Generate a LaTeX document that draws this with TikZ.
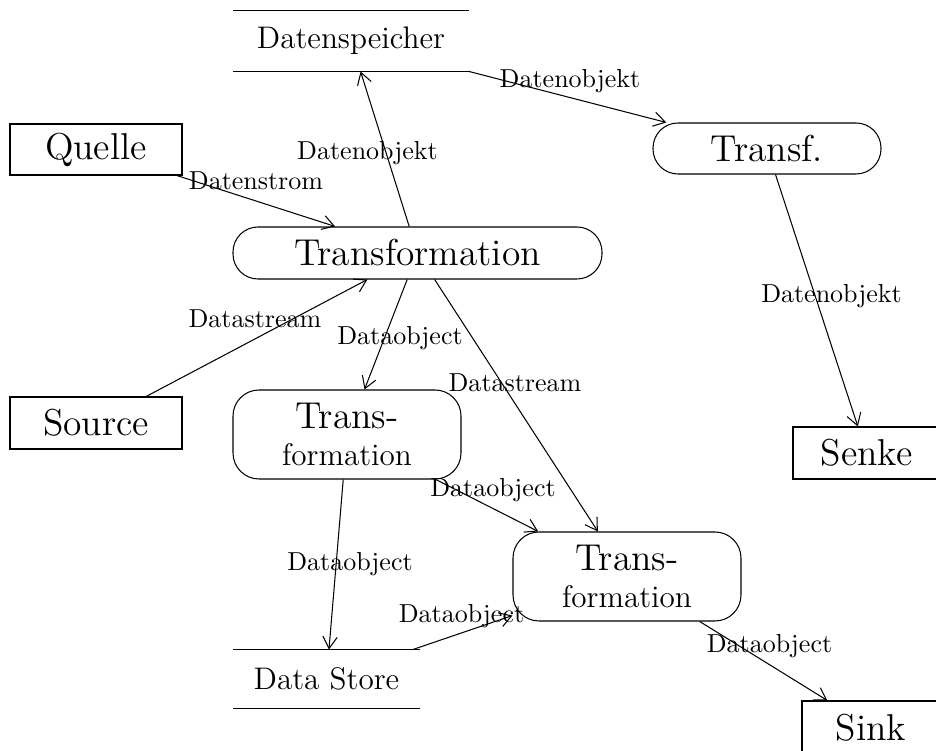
\documentclass[tikz,border=0pt]{standalone}
\usetikzlibrary{arrows.meta}
\newdimen\pu
\pu=0.3846pt
\begin{document}
\begin{tikzpicture}[x={(0.3846pt,0)}, y={(0,-0.3846pt)},
  every node/.style={inner sep=0pt},
  endpoint/.style={draw, font=\Large},
  capsule/.style={draw, font=\Large, rounded corners={25*\pu}},
  procbox/.style={draw, rounded corners=10pt, font=\large, align=center,
                  minimum width={228*\pu}, minimum height={89*\pu}},
  store/.style={font=\large},
  lbl/.style={font=\normalsize, anchor=base},
  arr/.style={-{Straight Barb[length=4.5pt,width=5.5pt]}}
]
\useasboundingbox (0,0) rectangle (936,751);

% nodes
\node[store, minimum width={234*\pu}, minimum height={60*\pu}] (ds) at (351,41) {Datenspeicher};
\draw (ds.north west) -- (ds.north east);
\draw (ds.south west) -- (ds.south east);

\node[endpoint, minimum width={172*\pu}, minimum height={51*\pu}] (quelle) at (96,149.5) {Quelle};
\node[endpoint, minimum width={172*\pu}, minimum height={52*\pu}] (source) at (96,423) {Source};
\node[endpoint, minimum width={147*\pu}, minimum height={52*\pu}] (senke) at (866.5,453) {Senke};
\node[endpoint, minimum width={138*\pu}, minimum height={53*\pu}] (sink) at (871,727.5) {Sink};

\node[capsule, minimum width={228*\pu}, minimum height={51*\pu}] (tf) at (767,148.5) {Transf.};
\node[capsule, minimum width={369*\pu}, minimum height={52*\pu}] (tr) at (417.5,253) {Transformation};

\node[procbox] (t1) at (347,434.5) {{\Large Trans-}\\formation};
\node[procbox] (t2) at (627,576.5) {{\Large Trans-}\\formation};

\node[store, minimum width={185*\pu}, minimum height={58*\pu}] (dst) at (326.5,679) {Data Store};
\draw (dst.north west) -- (dst.north east);
\draw (dst.south west) -- (dst.south east);

% connectors
\draw[arr] (ds) -- (tf);
\draw[arr] (tr) -- (ds);
\draw[arr] (quelle) -- (tr);
\draw[arr] (source) -- (tr);
\draw[arr] (tr) -- (t1);
\draw[arr] (tr) -- (t2);
\draw[arr] (tf) -- (senke);
\draw[arr] (t1) -- (t2);
\draw[arr] (t1) -- (dst);
\draw[arr] (dst) -- (t2);
\draw[arr] (t2) -- (sink);

% connector labels
\node[lbl] (l1) at (570,88) {Datenobjekt};
\node[lbl] (l2) at (367.5,160) {Datenobjekt};
\node[lbl] (l3) at (256,190) {Datenstrom};
\node[lbl] (l4) at (255,328) {Datastream};
\node[lbl] (l5) at (400,345) {Dataobject};
\node[lbl] (l6) at (515,392) {Datastream};
\node[lbl] (l7) at (831.5,303) {Datenobjekt};
\node[lbl] (l8) at (493,497) {Dataobject};
\node[lbl] (l9) at (350,571) {Dataobject};
\node[lbl] (l10) at (461.5,623) {Dataobject};
\node[lbl] (l11) at (769.5,653) {Dataobject};
\end{tikzpicture}
\end{document}
